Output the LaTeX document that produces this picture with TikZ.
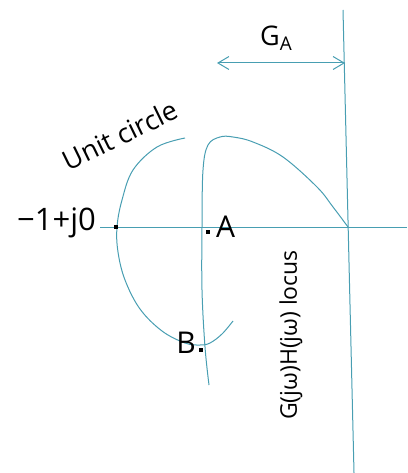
\documentclass[tikz,border=0pt]{standalone}
\usepackage{fontspec}
\setmainfont{Open Sans}
\usepackage{tikz}
\usetikzlibrary{arrows.meta, positioning}
\definecolor{locuscol}{RGB}{72,158,178}

\begin{document}
\begin{tikzpicture}[x=1pt, y=-1pt,
  ln/.style={locuscol, line width=1pt},
  dot/.style={fill=black, inner sep=0pt, minimum size=4.5pt},
  lbl/.style={inner sep=0pt, font=\fontsize{30}{34}\selectfont},
  a/.style={{Straight Barb[length=11pt, width=13pt]}-{Straight Barb[length=11pt, width=13pt]}, ln}]
\useasboundingbox (0,0) rectangle (407,473);
\coordinate (ax-l) at (100,227);
\coordinate (ax-r) at (407,227);
\coordinate (im-t) at (343,10);
\coordinate (im-b) at (354,473);
\coordinate (ga-l) at (217,63);
\coordinate (ga-r) at (345,63);
\draw[ln] (ax-l) -- (ax-r);
\draw[ln] (im-t) -- (im-b);
\draw[a] (ga-l) -- (ga-r);
\draw[ln] plot[smooth, tension=0.6] coordinates {(185,138) (157,147) (133,170) (122,200)
  (117,227) (118,252) (125,280) (140,309) (162,331) (185,343) (200,345) (210,343)
  (222,334) (233,321)};
\draw[ln] plot[smooth, tension=0.6] coordinates {(209,385) (205,347) (202,290) (202,227)
  (203,170) (208,145) (220,137) (233,137) (253,142) (283,157) (317,187) (333,207)
  (348,227)};
\node[dot] (m1) at (116,227) {};
\node[dot] (mA) at (208,232) {};
\node[dot] (mB) at (201,350) {};
\node[lbl, anchor=base east, font=\fontsize{31}{34}\selectfont] (t1) at (96,230) {−1+j0};
\node[lbl, anchor=base west] (tA) at (216,237) {A};
\node[lbl, anchor=base east] (tB) at (196,353) {B};
\node[lbl, anchor=base west, font=\fontsize{27}{30}\selectfont] (tG) at (260,46) {G\textsubscript{A}};
\node[lbl, rotate=26, font=\fontsize{27}{30}\selectfont] (tU) at (120,135) {Unit circle};
\node[lbl, rotate=90, font=\fontsize{23}{26}\selectfont] (tL) at (291,335) {G(jω)H(jω) locus};
\end{tikzpicture}
\end{document}
